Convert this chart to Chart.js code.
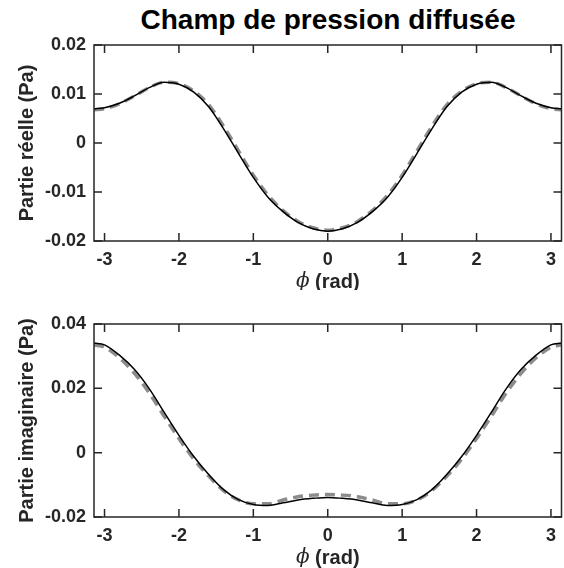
<!DOCTYPE html>
<html>
<head>
<meta charset="utf-8">
<script src="https://cdn.jsdelivr.net/npm/chart.js@4"></script>
<style>
  body { margin: 0; background: #fff; }
  #wrap { position: relative; width: 564px; height: 568px; background: #fff; }
  canvas { position: absolute; left: 0; }
  #title { position: absolute; left: 94px; width: 468px; top: 4px; text-align: center;
    font: bold 28px "Liberation Sans", Arial, sans-serif; color: #000; }
</style>
</head>
<body>
<div id="wrap">
  <div id="title">Champ de pression diffusée</div>
  <canvas id="reelle" width="564" height="290" style="top:0"></canvas>
  <canvas id="imag" width="564" height="278" style="top:290px"></canvas>
</div>
<script>
// Data
// **************************************
const phi = [-3.14, -3.0, -2.8, -2.6, -2.4, -2.2, -2.0, -1.8, -1.6, -1.4, -1.2, -1.0, -0.8, -0.6, -0.4, -0.2, 0,
  0.2, 0.4, 0.6, 0.8, 1.0, 1.2, 1.4, 1.6, 1.8, 2.0, 2.2, 2.4, 2.6, 2.8, 3.0, 3.14];

// real part : solid = black line, dashed = grey line
const realSolid = [0.0070, 0.0072, 0.0081, 0.0096, 0.0113, 0.0124, 0.0120, 0.0104, 0.0074, 0.0029, -0.0021, -0.0070,
  -0.0111, -0.0140, -0.0162, -0.0175, -0.0180, -0.0175, -0.0162, -0.0140, -0.0111, -0.0070, -0.0021, 0.0029,
  0.0074, 0.0104, 0.0120, 0.0124, 0.0113, 0.0096, 0.0081, 0.0072, 0.0070];
const realDashed = [0.0068, 0.0070, 0.0080, 0.0096, 0.0113, 0.0124, 0.0121, 0.0106, 0.0078, 0.0034, -0.0016, -0.0066,
  -0.0107, -0.0138, -0.0160, -0.0173, -0.0178, -0.0173, -0.0160, -0.0138, -0.0107, -0.0066, -0.0016, 0.0034,
  0.0078, 0.0106, 0.0121, 0.0124, 0.0113, 0.0096, 0.0080, 0.0070, 0.0068];

// imaginary part
const imagSolid = [0.0341, 0.0335, 0.0303, 0.0259, 0.0199, 0.0126, 0.0054, -0.0012, -0.0068, -0.0115, -0.0146, -0.0161,
  -0.0164, -0.0156, -0.0147, -0.0142, -0.0139, -0.0142, -0.0147, -0.0156, -0.0164, -0.0161, -0.0146, -0.0115,
  -0.0068, -0.0012, 0.0054, 0.0126, 0.0199, 0.0259, 0.0303, 0.0335, 0.0341];
const imagDashed = [0.0335, 0.0328, 0.0295, 0.0247, 0.0186, 0.0114, 0.0044, -0.0020, -0.0073, -0.0118, -0.0147, -0.0159,
  -0.0159, -0.0147, -0.0137, -0.0132, -0.0130, -0.0132, -0.0137, -0.0147, -0.0159, -0.0159, -0.0147, -0.0118,
  -0.0073, -0.0020, 0.0044, 0.0114, 0.0186, 0.0247, 0.0295, 0.0328, 0.0335];

// Tick labels
const xTicks = [-3, -2, -1, 0, 1, 2, 3];
const realTicks = [-0.02, -0.01, 0, 0.01, 0.02];
const imagTicks = [-0.02, 0, 0.02, 0.04];

const FONT = '"Liberation Sans", Arial, sans-serif';
const AXIS = '#262626';

// Frame box, inward ticks and the phi axis label
// **************************************
const frameTicks = {
  id: 'frameTicks',
  afterDatasetsDraw(chart) {
    const { ctx, chartArea: a, scales: { x, y } } = chart;
    ctx.save();
    ctx.strokeStyle = AXIS;
    ctx.lineWidth = 1.5;
    ctx.strokeRect(a.left, a.top, a.right - a.left, a.bottom - a.top);
    ctx.beginPath();
    x.ticks.forEach((t) => {
      const px = x.getPixelForValue(t.value);
      ctx.moveTo(px, a.bottom); ctx.lineTo(px, a.bottom - 8);
      ctx.moveTo(px, a.top); ctx.lineTo(px, a.top + 8);
    });
    y.ticks.forEach((t) => {
      const py = y.getPixelForValue(t.value);
      ctx.moveTo(a.left, py); ctx.lineTo(a.left + 8, py);
      ctx.moveTo(a.right, py); ctx.lineTo(a.right - 8, py);
    });
    ctx.stroke();

    // x label : italic phi + bold (rad)
    const cx = (a.left + a.right) / 2;
    const cy = a.bottom + 41;
    ctx.textBaseline = 'middle';
    ctx.fillStyle = AXIS;
    ctx.font = 'italic 20px "DejaVu Serif", serif';
    const w1 = ctx.measureText('\u03d5').width;
    ctx.font = 'bold 20px ' + FONT;
    const w2 = ctx.measureText(' (rad)').width;
    const sx = cx - (w1 + w2) / 2;
    ctx.textAlign = 'left';
    ctx.font = 'italic 20px "DejaVu Serif", serif';
    ctx.fillText('\u03d5', sx, cy);
    ctx.font = 'bold 20px ' + FONT;
    ctx.fillText(' (rad)', sx + w1, cy);
    ctx.restore();
  },
};

function makeChart(id, solid, dashed, yTicks, yMin, yMax, yTitle, padTop) {
  const canvas = document.getElementById(id);
  const xHeight = canvas.height - padTop - (id === 'reelle' ? 196 : 193);
  return new Chart(canvas, {
    type: 'line',
    data: {
      datasets: [
        {
          data: phi.map((p, i) => ({ x: p, y: solid[i] })),
          borderColor: '#000000',
          borderWidth: 1.5,
          pointRadius: 0,
          cubicInterpolationMode: 'monotone',
          order: 0,
        },
        {
          data: phi.map((p, i) => ({ x: p, y: dashed[i] })),
          borderColor: '#8c8c8c',
          borderWidth: 3.5,
          borderDash: [10, 6],
          pointRadius: 0,
          cubicInterpolationMode: 'monotone',
          order: 1,
        },
      ],
    },
    options: {
      responsive: false,
      animation: false,
      devicePixelRatio: 1,
      layout: { padding: { top: padTop, right: 2, left: 0, bottom: 0 } },
      plugins: { legend: { display: false }, tooltip: { enabled: false } },
      scales: {
        x: {
          type: 'linear',
          min: -Math.PI,
          max: Math.PI,
          grid: { display: false, drawTicks: false },
          border: { display: false },
          afterBuildTicks: (scale) => { scale.ticks = xTicks.map((v) => ({ value: v })); },
          afterFit: (scale) => { scale.height = xHeight; },
          ticks: {
            padding: 8,
            color: AXIS,
            font: { family: FONT, size: 18, weight: 'bold' },
            maxRotation: 0,
            callback: (v) => String(v),
          },
        },
        y: {
          min: yMin,
          max: yMax,
          grid: { display: false, drawTicks: false },
          border: { display: false },
          afterBuildTicks: (scale) => { scale.ticks = yTicks.map((v) => ({ value: v })); },
          afterFit: (scale) => { scale.width = 94; },
          title: {
            display: true,
            text: yTitle,
            color: AXIS,
            font: { family: FONT, size: 20, weight: 'bold' },
            padding: { top: 15, bottom: 0 },
          },
          ticks: {
            padding: 8,
            color: AXIS,
            font: { family: FONT, size: 18, weight: 'bold' },
            callback: (v) => String(v),
          },
        },
      },
    },
    plugins: [frameTicks],
  });
}

makeChart('reelle', realSolid, realDashed, realTicks, -0.02, 0.02, 'Partie réelle (Pa)', 45);
makeChart('imag', imagSolid, imagDashed, imagTicks, -0.02, 0.04, 'Partie imaginaire (Pa)', 34);
</script>
</body>
</html>
